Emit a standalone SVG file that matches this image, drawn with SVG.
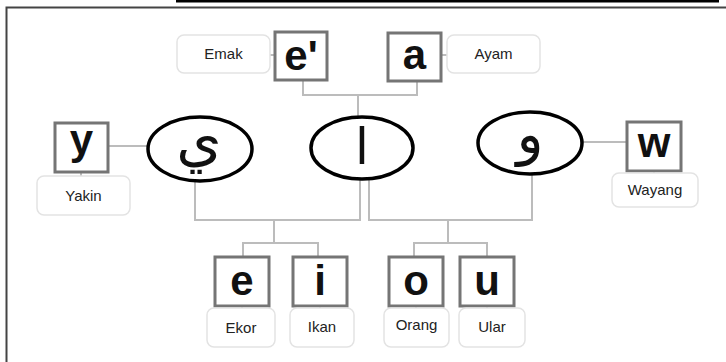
<svg xmlns="http://www.w3.org/2000/svg" width="726" height="362" viewBox="0 0 726 362">
<style>
.box{fill:#fff;stroke:#757575;stroke-width:3}
.lbl{fill:#fff;stroke:#e3e3e3;stroke-width:1.5}
.lt{font-family:"Liberation Sans",Arial,sans-serif;font-size:15px;fill:#222;text-anchor:middle}
.bt{font-family:"Liberation Sans",Arial,sans-serif;font-size:42px;font-weight:bold;fill:#111;text-anchor:middle}
.ell{fill:#fff;stroke:#000;stroke-width:3.5}
.ar{font-family:"DejaVu Sans","Noto Sans",sans-serif;fill:#111;text-anchor:middle}
.con{fill:none;stroke:#bcbcbc;stroke-width:2}
</style>
<rect width="726" height="362" fill="#fff"/>
<rect x="176" y="0" width="543" height="2.5" fill="#000"/>
<path d="M6.5 362 V7.5 H726" fill="none" stroke="#444" stroke-width="2"/>
<g id="connectors">
<path class="con" d="M303 80 V95 H417 V81 M358 95 V118"/>
<path class="con" d="M270 55 H274 M441 55 H447"/>
<path class="con" d="M108 146 H148 M81 172 V176"/>
<path class="con" d="M582 142 H627 M654 171 V173"/>
<path class="con" d="M195 181 V220 H360 V179 M369 179 V220 H532 V174"/>
<path class="con" d="M274 220 V243 M243 257 V243 H318 V257"/>
<path class="con" d="M448 220 V243 M414 257 V243 H487 V257"/>
<path class="con" d="M242 306 V308 M320 306 V308 M416 306 V308 M487 306 V308"/>
</g>
<g id="emak"><rect class="lbl" x="177" y="35" width="93" height="38" rx="7"/><text class="lt" x="223.5" y="59">Emak</text></g>
<g id="e-accent"><rect class="box" x="275" y="32" width="52" height="48"/><text class="bt" x="301" y="70">e'</text></g>
<g id="a"><rect class="box" x="388" y="33" width="53" height="48"/><text class="bt" x="414.5" y="69">a</text></g>
<g id="ayam"><rect class="lbl" x="447" y="35" width="93" height="38" rx="7"/><text class="lt" x="493.5" y="59">Ayam</text></g>
<g id="ya"><ellipse class="ell" cx="200" cy="149" rx="52" ry="32"/><text class="ar" x="199" y="160" font-size="58">ي</text></g>
<g id="alif"><ellipse class="ell" cx="362" cy="148" rx="51" ry="31"/><text class="ar" x="362" y="164" font-size="50">ا</text></g>
<g id="wau"><ellipse class="ell" cx="530" cy="143" rx="52" ry="31"/><text class="ar" x="530" y="153" font-size="56">و</text></g>
<g id="y"><rect class="box" x="55" y="123" width="53" height="49"/><text class="bt" x="81.5" y="154">y</text></g>
<g id="yakin"><rect class="lbl" x="37" y="176" width="93" height="39" rx="7"/><text class="lt" x="83.5" y="201">Yakin</text></g>
<g id="w"><rect class="box" x="627" y="122" width="54" height="49"/><text class="bt" x="654" y="157">w</text></g>
<g id="wayang"><rect class="lbl" x="612" y="173" width="86" height="34" rx="7"/><text class="lt" x="655" y="195">Wayang</text></g>
<g id="e"><rect class="box" x="215" y="257" width="54" height="49"/><text class="bt" x="242" y="295">e</text></g>
<g id="i"><rect class="box" x="293" y="257" width="54" height="49"/><text class="bt" x="320" y="295">i</text></g>
<g id="o"><rect class="box" x="389" y="257" width="54" height="49"/><text class="bt" x="416" y="295">o</text></g>
<g id="u"><rect class="box" x="460" y="257" width="54" height="49"/><text class="bt" x="487" y="295">u</text></g>
<g id="ekor"><rect class="lbl" x="207" y="308" width="68" height="39" rx="7"/><text class="lt" x="241" y="333">Ekor</text></g>
<g id="ikan"><rect class="lbl" x="290" y="308" width="64" height="39" rx="7"/><text class="lt" x="322" y="332">Ikan</text></g>
<g id="orang"><rect class="lbl" x="384" y="308" width="65" height="39" rx="7"/><text class="lt" x="416.5" y="330">Orang</text></g>
<g id="ular"><rect class="lbl" x="459" y="308" width="66" height="39" rx="7"/><text class="lt" x="492" y="332">Ular</text></g>
</svg>
